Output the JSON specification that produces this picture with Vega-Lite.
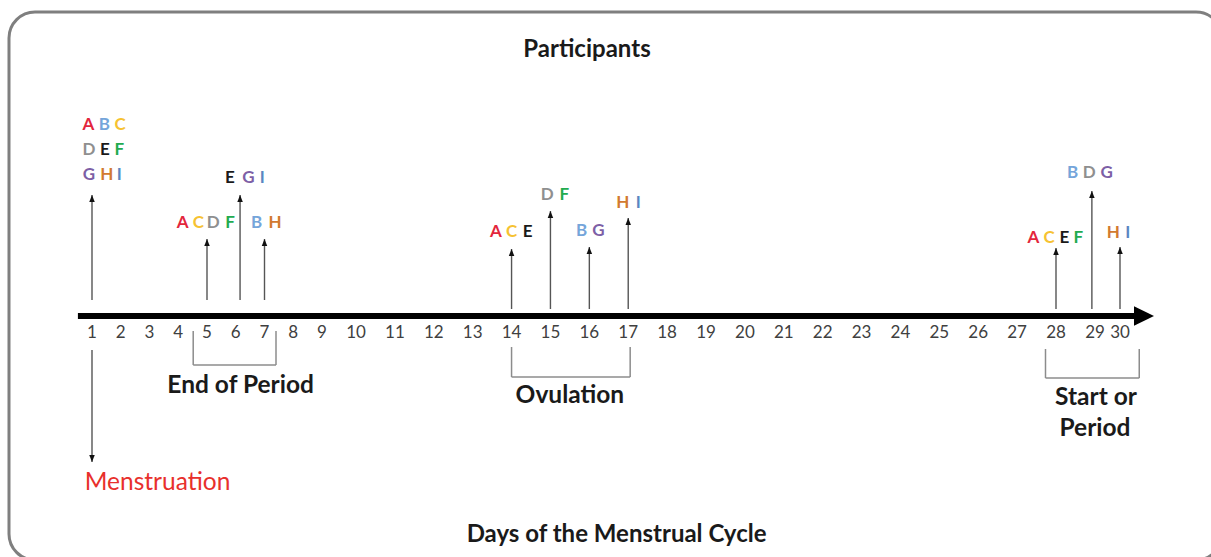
{
  "$schema": "https://vega.github.io/schema/vega-lite/v6.json",
  "width": 1211,
  "height": 557,
  "padding": 0,
  "autosize": {"type": "none"},
  "background": "white",
  "config": {"view": {"stroke": null}, "font": "Lato"},
  "datasets": {
    "days": [{"day":1},{"day":2},{"day":3},{"day":4},{"day":5},{"day":6},{"day":7},{"day":8},{"day":9},{"day":10},{"day":11},{"day":12},{"day":13},{"day":14},{"day":15},{"day":16},{"day":17},{"day":18},{"day":19},{"day":20},{"day":21},{"day":22},{"day":23},{"day":24},{"day":25},{"day":26},{"day":27},{"day":28},{"day":29},{"day":30}],
    "frame": [{"x": -1.887, "x2": 34.08, "y": 30.4, "y2": -24.4}],
    "axisline": [{"x": 0.51, "x2": 30.56, "y": 0}],
    "arrows": [
      {"day": 1, "base": 1.6, "tip": 12.1, "dir": "up"},
      {"day": 5, "base": 1.6, "tip": 7.7, "dir": "up"},
      {"day": 6.15, "base": 1.6, "tip": 12.1, "dir": "up"},
      {"day": 7, "base": 1.6, "tip": 7.7, "dir": "up"},
      {"day": 14, "base": 0.7, "tip": 6.7, "dir": "up"},
      {"day": 15, "base": 0.7, "tip": 10.5, "dir": "up"},
      {"day": 16, "base": 0.7, "tip": 6.9, "dir": "up"},
      {"day": 17, "base": 0.7, "tip": 9.8, "dir": "up"},
      {"day": 28, "base": 0.7, "tip": 6.8, "dir": "up"},
      {"day": 28.92, "base": 0.7, "tip": 12.5, "dir": "up"},
      {"day": 30, "base": 0.7, "tip": 6.9, "dir": "up"},
      {"day": 1, "base": -3.4, "tip": -14.6, "dir": "down"}
    ],
    "letters": [
      {"day": 1, "p": "A", "pos": 0.871, "level": 19.1},
      {"day": 1, "p": "B", "pos": 1.428, "level": 19.1},
      {"day": 1, "p": "C", "pos": 1.974, "level": 19.1},
      {"day": 1, "p": "D", "pos": 0.896, "level": 16.6},
      {"day": 1, "p": "E", "pos": 1.452, "level": 16.6},
      {"day": 1, "p": "F", "pos": 1.95, "level": 16.6},
      {"day": 1, "p": "G", "pos": 0.896, "level": 14.1},
      {"day": 1, "p": "H", "pos": 1.511, "level": 14.1},
      {"day": 1, "p": "I", "pos": 1.95, "level": 14.1},
      {"day": 5, "p": "A", "pos": 4.155, "level": 9.3},
      {"day": 5, "p": "C", "pos": 4.697, "level": 9.3},
      {"day": 5, "p": "D", "pos": 5.219, "level": 9.3},
      {"day": 5, "p": "F", "pos": 5.8, "level": 9.3},
      {"day": 6, "p": "E", "pos": 5.8, "level": 13.8},
      {"day": 6, "p": "G", "pos": 6.437, "level": 13.8},
      {"day": 6, "p": "I", "pos": 6.923, "level": 13.8},
      {"day": 7, "p": "B", "pos": 6.729, "level": 9.3},
      {"day": 7, "p": "H", "pos": 7.365, "level": 9.3},
      {"day": 14, "p": "A", "pos": 13.6, "level": 8.4},
      {"day": 14, "p": "C", "pos": 14.004, "level": 8.4},
      {"day": 14, "p": "E", "pos": 14.415, "level": 8.4},
      {"day": 15, "p": "D", "pos": 14.919, "level": 12.1},
      {"day": 15, "p": "F", "pos": 15.356, "level": 12.1},
      {"day": 16, "p": "B", "pos": 15.804, "level": 8.5},
      {"day": 16, "p": "G", "pos": 16.231, "level": 8.5},
      {"day": 17, "p": "H", "pos": 16.858, "level": 11.3},
      {"day": 17, "p": "I", "pos": 17.259, "level": 11.3},
      {"day": 28, "p": "A", "pos": 27.416, "level": 7.8},
      {"day": 28, "p": "C", "pos": 27.82, "level": 7.8},
      {"day": 28, "p": "E", "pos": 28.213, "level": 7.8},
      {"day": 28, "p": "F", "pos": 28.572, "level": 7.8},
      {"day": 29, "p": "B", "pos": 28.428, "level": 14.3},
      {"day": 29, "p": "D", "pos": 28.854, "level": 14.3},
      {"day": 29, "p": "G", "pos": 29.468, "level": 14.3},
      {"day": 30, "p": "H", "pos": 29.732, "level": 8.3},
      {"day": 30, "p": "I", "pos": 30.308, "level": 8.3}
    ],
    "brackets": [
      {"x": 4.52, "x2": 4.52, "y": -1.5, "y2": -4.9},
      {"x": 7.4, "x2": 7.4, "y": -1.5, "y2": -4.9},
      {"x": 4.52, "x2": 7.4, "y": -4.9, "y2": -4.9},
      {"x": 14, "x2": 14, "y": -3.1, "y2": -6.1},
      {"x": 17.05, "x2": 17.05, "y": -3.1, "y2": -6.1},
      {"x": 14, "x2": 17.05, "y": -6.1, "y2": -6.1},
      {"x": 27.73, "x2": 27.73, "y": -3.3, "y2": -6.2},
      {"x": 30.77, "x2": 30.77, "y": -3.3, "y2": -6.2},
      {"x": 27.73, "x2": 30.77, "y": -6.2, "y2": -6.2}
    ],
    "labels": [
      {"text": "Participants", "x": 15.94, "level": 26.6, "kind": "title"},
      {"text": "Days of the Menstrual Cycle", "x": 16.7, "level": -21.9, "kind": "title"},
      {"text": "End of Period", "x": 6.17, "level": -7.0, "kind": "phase"},
      {"text": "Ovulation", "x": 15.5, "level": -8.0, "kind": "phase"},
      {"text": "Start or", "x": 29.04, "level": -8.2, "kind": "phase"},
      {"text": "Period", "x": 29.0, "level": -11.3, "kind": "phase"},
      {"text": "Menstruation", "x": 3.28, "level": -16.7, "kind": "red"}
    ]
  },
  "layer": [
    {
      "data": {"name": "frame"},
      "mark": {"type": "rect", "fill": null, "stroke": "#7f7f7f", "strokeWidth": 3, "cornerRadius": 26, "clip": false},
      "encoding": {
        "x": {"field": "x", "type": "quantitative", "axis": null, "scale": {"domain": [1, 9, 10, 28, 29, 30], "range": [92, 322, 356, 1056, 1095, 1120], "zero": false, "nice": false}},
        "x2": {"field": "x2"},
        "y": {"field": "y", "type": "quantitative", "axis": null, "scale": {"domain": [-24.1, 31.6], "range": [557, 0], "zero": false, "nice": false}},
        "y2": {"field": "y2"}
      }
    },
    {
      "data": {"name": "axisline"},
      "mark": {"type": "rule", "color": "#000000", "strokeWidth": 6},
      "encoding": {
        "x": {"field": "x", "type": "quantitative", "axis": null},
        "x2": {"field": "x2"},
        "y": {"field": "y", "type": "quantitative", "axis": null}
      }
    },
    {
      "data": {"name": "axisline"},
      "mark": {"type": "point", "shape": "M0,-0.97L2,0L0,0.97Z", "size": 400, "filled": true, "color": "#000000", "opacity": 1},
      "encoding": {
        "x": {"field": "x2", "type": "quantitative", "axis": null},
        "y": {"field": "y", "type": "quantitative", "axis": null}
      }
    },
    {
      "data": {"name": "arrows"},
      "mark": {"type": "rule", "color": "#555555", "strokeWidth": 1.4},
      "encoding": {
        "x": {"field": "day", "type": "quantitative", "axis": null},
        "y": {"field": "base", "type": "quantitative", "axis": null},
        "y2": {"field": "tip"}
      }
    },
    {
      "data": {"name": "arrows"},
      "mark": {"type": "point", "filled": true, "color": "#111111", "opacity": 1, "size": 100},
      "encoding": {
        "x": {"field": "day", "type": "quantitative", "axis": null},
        "y": {"field": "tip", "type": "quantitative", "axis": null},
        "shape": {"field": "dir", "type": "nominal", "legend": null, "scale": {"domain": ["up", "down"], "range": ["M0,0L0.55,1.4L-0.55,1.4Z", "M0,0L0.55,-1.4L-0.55,-1.4Z"]}}
      }
    },
    {
      "data": {"name": "brackets"},
      "mark": {"type": "rule", "color": "#8c8c8c", "strokeWidth": 1.5},
      "encoding": {
        "x": {"field": "x", "type": "quantitative", "axis": null},
        "x2": {"field": "x2"},
        "y": {"field": "y", "type": "quantitative", "axis": null},
        "y2": {"field": "y2"}
      }
    },
    {
      "data": {"name": "days"},
      "mark": {"type": "text", "font": "Lato", "fontSize": 17, "color": "#404040", "baseline": "middle", "align": "center"},
      "encoding": {
        "x": {"field": "day", "type": "quantitative", "axis": null},
        "y": {"datum": -1.7, "type": "quantitative", "axis": null},
        "text": {"field": "day", "type": "quantitative"}
      }
    },
    {
      "data": {"name": "letters"},
      "mark": {"type": "text", "font": "Lato", "fontWeight": "bold", "fontSize": 17, "baseline": "middle", "align": "center"},
      "encoding": {
        "x": {"field": "pos", "type": "quantitative", "axis": null},
        "y": {"field": "level", "type": "quantitative", "axis": null},
        "text": {"field": "p", "type": "nominal"},
        "color": {"field": "p", "type": "nominal", "legend": null, "scale": {"domain": ["A", "B", "C", "D", "E", "F", "G", "H", "I"], "range": ["#e3263c", "#75a5da", "#f6c232", "#8f8f8f", "#1a1a1a", "#22ab4f", "#7d5fa6", "#d27a30", "#5a86c2"]}}
      }
    },
    {
      "data": {"name": "labels"},
      "transform": [{"filter": "datum.kind === 'title'"}],
      "mark": {"type": "text", "font": "Lato", "fontWeight": "bold", "fontSize": 24, "color": "#1a1a1a", "baseline": "middle", "align": "center"},
      "encoding": {
        "x": {"field": "x", "type": "quantitative", "axis": null},
        "y": {"field": "level", "type": "quantitative", "axis": null},
        "text": {"field": "text", "type": "nominal"}
      }
    },
    {
      "data": {"name": "labels"},
      "transform": [{"filter": "datum.kind === 'phase'"}],
      "mark": {"type": "text", "font": "Lato", "fontWeight": "bold", "fontSize": 24.5, "color": "#1a1a1a", "baseline": "middle", "align": "center"},
      "encoding": {
        "x": {"field": "x", "type": "quantitative", "axis": null},
        "y": {"field": "level", "type": "quantitative", "axis": null},
        "text": {"field": "text", "type": "nominal"}
      }
    },
    {
      "data": {"name": "labels"},
      "transform": [{"filter": "datum.kind === 'red'"}],
      "mark": {"type": "text", "font": "Lato", "fontSize": 24.5, "color": "#e8302c", "baseline": "middle", "align": "center"},
      "encoding": {
        "x": {"field": "x", "type": "quantitative", "axis": null},
        "y": {"field": "level", "type": "quantitative", "axis": null},
        "text": {"field": "text", "type": "nominal"}
      }
    }
  ]
}
